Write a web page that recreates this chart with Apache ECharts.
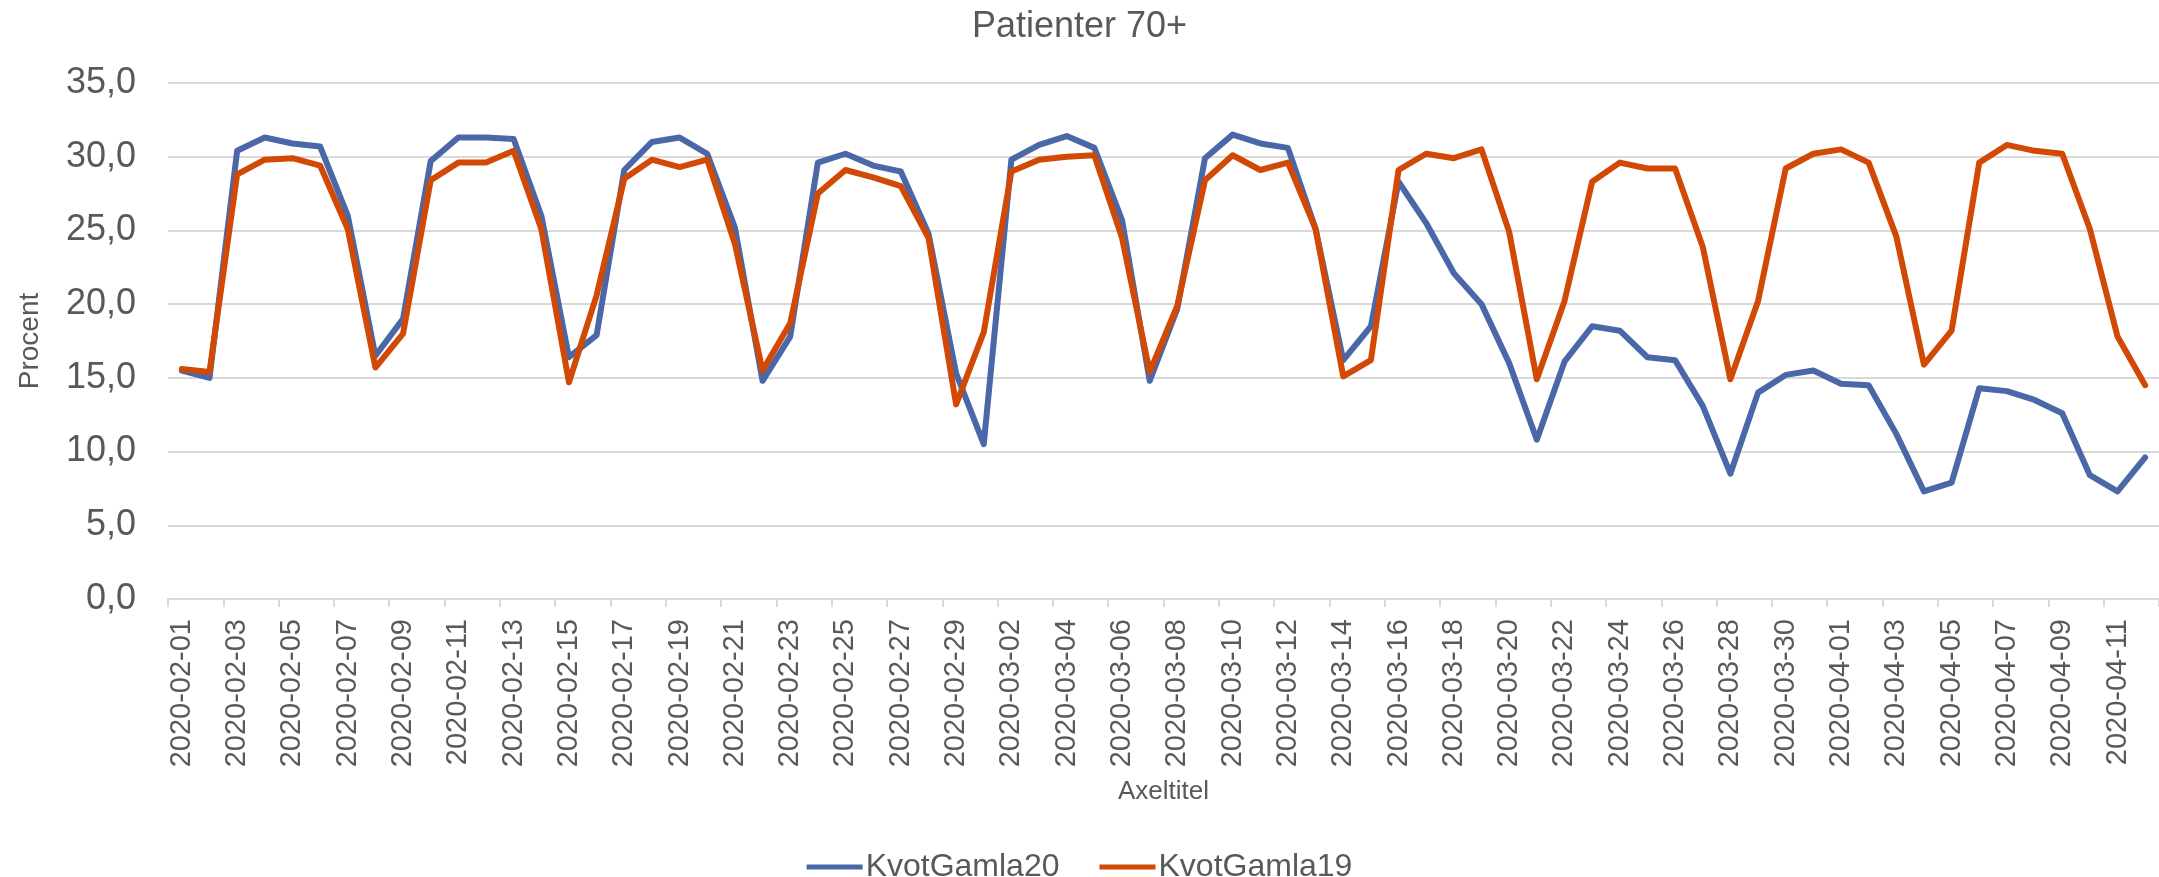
<!DOCTYPE html>
<html>
<head>
<meta charset="utf-8">
<script src="https://cdn.jsdelivr.net/npm/echarts@6/dist/echarts.min.js"></script>
<style>
html,body{margin:0;padding:0;background:#fff;}
#chart{width:2159px;height:877px;}
</style>
</head>
<body>
<div id="chart"></div>
<script>
const titleText = 'Patienter 70+';
const yAxisTitle = 'Procent';
const xAxisTitle = 'Axeltitel';
const seriesNames = ['KvotGamla20', 'KvotGamla19'];

const dates = [
'2020-02-01','2020-02-02','2020-02-03','2020-02-04','2020-02-05','2020-02-06','2020-02-07','2020-02-08','2020-02-09','2020-02-10',
'2020-02-11','2020-02-12','2020-02-13','2020-02-14','2020-02-15','2020-02-16','2020-02-17','2020-02-18','2020-02-19','2020-02-20',
'2020-02-21','2020-02-22','2020-02-23','2020-02-24','2020-02-25','2020-02-26','2020-02-27','2020-02-28','2020-02-29',
'2020-03-01','2020-03-02','2020-03-03','2020-03-04','2020-03-05','2020-03-06','2020-03-07','2020-03-08','2020-03-09','2020-03-10',
'2020-03-11','2020-03-12','2020-03-13','2020-03-14','2020-03-15','2020-03-16','2020-03-17','2020-03-18','2020-03-19','2020-03-20',
'2020-03-21','2020-03-22','2020-03-23','2020-03-24','2020-03-25','2020-03-26','2020-03-27','2020-03-28','2020-03-29','2020-03-30',
'2020-03-31','2020-04-01','2020-04-02','2020-04-03','2020-04-04','2020-04-05','2020-04-06','2020-04-07','2020-04-08','2020-04-09',
'2020-04-10','2020-04-11','2020-04-12'
];

const kvotGamla20 = [
15.5,15.0,30.4,31.3,30.9,30.7,26.0,16.5,19.0,29.7,
31.3,31.3,31.2,26.0,16.4,17.9,29.1,31.0,31.3,30.2,
25.2,14.8,17.8,29.6,30.2,29.4,29.0,24.8,15.3,10.5,
29.8,30.8,31.4,30.6,25.7,14.8,19.7,29.9,31.5,30.9,
30.6,25.1,16.2,18.5,28.3,25.5,22.1,20.0,16.0,10.8,
16.1,18.5,18.2,16.4,16.2,13.1,8.5,14.0,15.2,15.5,
14.6,14.5,11.2,7.3,7.9,14.3,14.1,13.5,12.6,8.4,
7.3,9.6
];

const kvotGamla19 = [
15.6,15.4,28.8,29.8,29.9,29.4,25.1,15.7,18.0,28.4,
29.6,29.6,30.4,25.1,14.7,20.6,28.5,29.8,29.3,29.8,
24.1,15.5,18.7,27.5,29.1,28.6,28.0,24.5,13.2,18.1,
29.0,29.8,30.0,30.1,24.5,15.4,19.9,28.4,30.1,29.1,
29.6,25.1,15.1,16.2,29.1,30.2,29.9,30.5,24.9,14.9,
20.2,28.3,29.6,29.2,29.2,23.9,14.9,20.2,29.2,30.2,
30.5,29.6,24.6,15.9,18.2,29.6,30.8,30.4,30.2,25.1,
17.8,14.5
];

const FONT = '"Liberation Sans", Arial, sans-serif';
const TXT = '#595959';
const GRID = '#d9d9d9';

const chart = echarts.init(document.getElementById('chart'), null, {renderer: 'canvas'});
chart.setOption({
  animation: false,
  backgroundColor: '#fff',
  textStyle: {fontFamily: FONT, color: TXT},
  title: {
    text: titleText,
    left: 'center',
    top: 4,
    textStyle: {fontFamily: FONT, fontSize: 36, fontWeight: 'normal', color: TXT}
  },
  legend: {
    data: seriesNames,
    left: 'center',
    top: 846,
    icon: 'rect',
    itemWidth: 56,
    itemHeight: 5,
    itemGap: 40,
    textStyle: {fontFamily: FONT, fontSize: 32, color: TXT, padding: [0,0,0,-2]}
  },
  grid: {left: 168, right: 0, top: 83, bottom: 278, containLabel: false},
  xAxis: {
    type: 'category',
    data: dates,
    boundaryGap: true,
    name: xAxisTitle,
    nameLocation: 'middle',
    nameGap: 180,
    nameTextStyle: {fontFamily: FONT, fontSize: 26, color: TXT},
    axisLine: {show: true, lineStyle: {color: GRID, width: 2}},
    axisTick: {show: true, interval: 1, length: 8, lineStyle: {color: GRID, width: 2}},
    axisLabel: {interval: 1, rotate: 90, margin: 20, fontFamily: FONT, fontSize: 29, color: TXT},
    splitLine: {show: false}
  },
  yAxis: {
    type: 'value',
    min: 0,
    max: 35,
    interval: 5,
    name: yAxisTitle,
    nameLocation: 'middle',
    nameRotate: 90,
    nameGap: 124,
    nameTextStyle: {fontFamily: FONT, fontSize: 28, color: TXT},
    axisLine: {show: false},
    axisTick: {show: false},
    axisLabel: {
      margin: 32,
      fontFamily: FONT,
      fontSize: 36,
      color: TXT,
      formatter: v => v.toFixed(1).replace('.', ',')
    },
    splitLine: {show: true, lineStyle: {color: GRID, width: 2}}
  },
  series: [
    {
      name: seriesNames[0],
      type: 'line',
      data: kvotGamla20,
      symbol: 'none',
      smooth: false,
      color: '#4a67a8',
      lineStyle: {color: '#4a67a8', width: 6, join: 'round', cap: 'round'},
      z: 2
    },
    {
      name: seriesNames[1],
      type: 'line',
      data: kvotGamla19,
      symbol: 'none',
      smooth: false,
      color: '#d14905',
      lineStyle: {color: '#d14905', width: 6, join: 'round', cap: 'round'},
      z: 3
    }
  ]
});
</script>
</body>
</html>
